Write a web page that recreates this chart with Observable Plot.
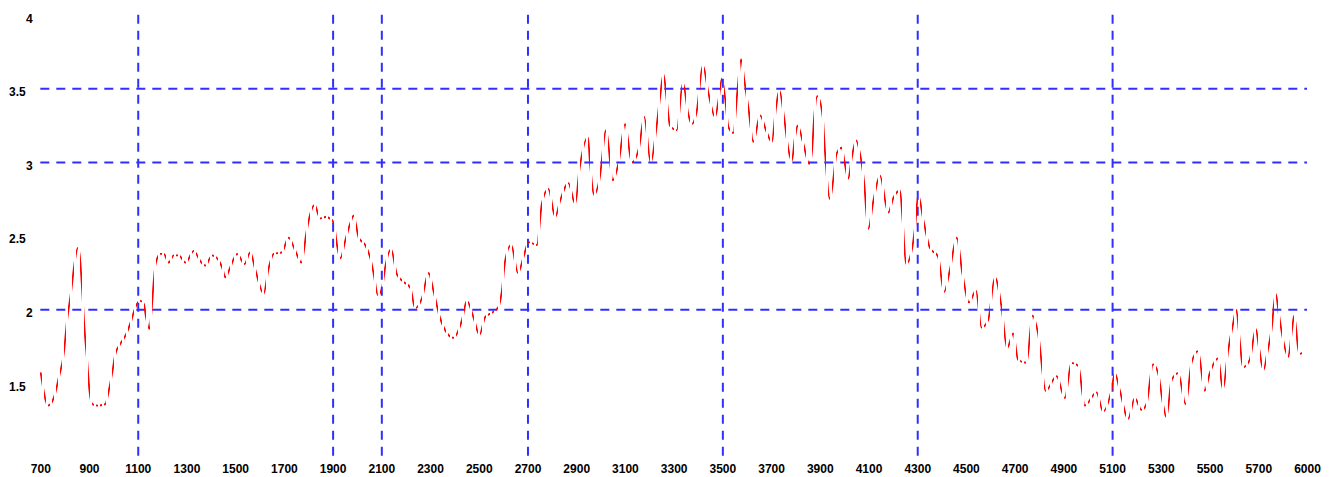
<!DOCTYPE html>
<html><head><meta charset="utf-8">
<script src="https://cdn.jsdelivr.net/npm/d3@7"></script>
<script src="https://cdn.jsdelivr.net/npm/@observablehq/plot@0.6"></script>
<style>html,body{margin:0;padding:0;background:#fff;overflow:hidden;}</style>
</head><body><div id="chart"></div>
<script>
const xValues = [700,730,753,774,794,808,825,838,852,859,870,879,890,900,911,931,965,979,995,1006,1027,1052,1072,1089,1109,1123,1132,1146,1154,1164,1171,1191,1205,1225,1246,1266,1294,1328,1355,1376,1403,1424,1444,1458,1478,1506,1536,1560,1581,1615,1635,1656,1690,1717,1745,1770,1790,1806,1824,1847,1868,1895,1906,1916,1930,1950,1971,1984,2005,2032,2053,2066,2084,2101,2114,2138,2162,2189,2217,2237,2265,2292,2312,2340,2394,2429,2449,2476,2501,2524,2552,2579,2593,2606,2631,2659,2682,2702,2737,2757,2784,2812,2832,2866,2894,2911,2946,2955,2972,2993,3021,3048,3071,3099,3126,3156,3177,3204,3226,3242,3256,3270,3283,3311,3336,3358,3372,3393,3418,3441,3468,3482,3496,3509,3523,3543,3560,3575,3588,3605,3625,3653,3677,3701,3718,3732,3751,3769,3783,3796,3807,3830,3855,3865,3875,3888,3910,3919,3940,3953,3967,3988,4001,4015,4029,4047,4063,4079,4097,4118,4145,4179,4200,4227,4238,4252,4275,4289,4302,4323,4350,4384,4408,4432,4460,4484,4511,4539,4562,4589,4617,4644,4667,4692,4712,4747,4771,4794,4826,4870,4904,4931,4959,4986,5034,5061,5096,5109,5130,5164,5191,5219,5239,5266,5287,5307,5321,5342,5369,5400,5424,5451,5478,5499,5533,5553,5574,5594,5608,5622,5635,5663,5688,5702,5729,5753,5778,5804,5824,5851,5882,5904,5918,5949,5973];
const yValues = [1.57,1.35,1.40,1.54,1.70,1.93,2.13,2.31,2.42,2.38,2.13,1.88,1.66,1.45,1.36,1.35,1.36,1.45,1.59,1.70,1.77,1.84,1.93,2.02,2.06,2.04,1.95,1.87,1.98,2.20,2.31,2.38,2.38,2.32,2.37,2.37,2.32,2.40,2.33,2.30,2.37,2.35,2.29,2.22,2.29,2.38,2.31,2.39,2.27,2.11,2.28,2.38,2.39,2.49,2.40,2.32,2.52,2.65,2.71,2.62,2.63,2.61,2.56,2.44,2.35,2.47,2.59,2.64,2.49,2.44,2.35,2.25,2.10,2.15,2.29,2.41,2.24,2.19,2.15,2.01,2.08,2.25,2.13,1.94,1.81,1.93,2.06,1.95,1.83,1.95,1.98,2.02,2.13,2.33,2.44,2.25,2.36,2.46,2.44,2.72,2.82,2.63,2.74,2.86,2.72,2.95,3.17,2.99,2.78,2.88,3.22,2.88,2.99,3.26,3.00,3.10,3.31,3.00,3.22,3.44,3.60,3.42,3.25,3.22,3.54,3.33,3.26,3.35,3.66,3.47,3.31,3.42,3.57,3.44,3.24,3.20,3.49,3.70,3.56,3.37,3.14,3.32,3.22,3.14,3.37,3.49,3.31,3.09,3.01,3.17,3.25,3.13,2.99,3.06,3.31,3.45,3.31,3.08,2.75,2.88,3.06,3.10,2.99,2.89,3.03,3.15,3.06,2.88,2.55,2.74,2.91,2.66,2.76,2.81,2.61,2.31,2.40,2.56,2.78,2.61,2.42,2.36,2.12,2.27,2.49,2.24,2.05,2.13,1.88,1.93,2.22,2.02,1.74,1.84,1.66,1.64,1.96,1.84,1.45,1.55,1.40,1.64,1.62,1.35,1.44,1.31,1.46,1.57,1.45,1.26,1.40,1.32,1.36,1.63,1.57,1.36,1.27,1.52,1.57,1.36,1.64,1.72,1.45,1.57,1.67,1.46,1.72,1.90,2.00,1.79,1.61,1.66,1.87,1.74,1.59,1.71,1.86,2.11,1.97,1.79,1.68,1.86,1.96,1.70,1.71];
const xTicks = [700,900,1100,1300,1500,1700,1900,2100,2300,2500,2700,2900,3100,3300,3500,3700,3900,4100,4300,4500,4700,4900,5100,5300,5500,5700,6000];
const yTicksWhole = [2,3,4];
const yTicksHalf = [1.5,2.5,3.5];
const xGridValues = [1100,1900,2100,2700,3500,4300,5100];
const yGridValues = [2,3,3.5];

const data = xValues.map((x, i) => ({x, y: yValues[i]}));

const chart = Plot.plot({
  width: 1338,
  height: 477,
  marginLeft: 40.3,
  marginRight: 31,
  marginTop: 14.7,
  marginBottom: 20.4,
  x: {type: "linear", domain: [700, 5700, 6000], range: [40.3, 1258.25, 1307], label: null},
  y: {type: "linear", domain: [1, 4], label: null},
  style: {fontFamily: "'Liberation Sans', Arial, sans-serif", fontSize: "12px", fontWeight: "bold", color: "#000", background: "#fff"},
  marks: [
    Plot.ruleY(yGridValues, {stroke: "#2f2fff", strokeWidth: 2, strokeDasharray: "9,7"}),
    Plot.ruleX(xGridValues, {stroke: "#2f2fff", strokeWidth: 2, strokeDasharray: "9,7"}),
    Plot.line(data, {x: "x", y: "y", stroke: "#ff0000", strokeWidth: 1.8, curve: "monotone-x"}),
    Plot.axisX(xTicks, {tickSize: 0, tickPadding: 7, label: null, tickFormat: d => String(d), fontWeight: "bold", fill: "#000"}),
    Plot.axisY(yTicksWhole, {tickSize: 0, tickPadding: 8, dy: 3.5, label: null, tickFormat: d => String(d), fontWeight: "bold", fill: "#000"}),
    Plot.axisY(yTicksHalf, {tickSize: 0, tickPadding: 15, dy: 3.5, label: null, tickFormat: d => String(d), fontWeight: "bold", fill: "#000"})
  ]
});

// dash the red series in vertical screen stripes (x-based dashing, like the original renderer)
const ns = "http://www.w3.org/2000/svg";
const defs = document.createElementNS(ns, "defs");
const clip = document.createElementNS(ns, "clipPath");
clip.setAttribute("id", "xdash");
clip.setAttribute("clipPathUnits", "userSpaceOnUse");
for (let px = 0; px < 1338; px += 4) {
  const r = document.createElementNS(ns, "rect");
  r.setAttribute("x", px); r.setAttribute("y", 0);
  r.setAttribute("width", 2); r.setAttribute("height", 477);
  clip.appendChild(r);
}
defs.appendChild(clip);
chart.insertBefore(defs, chart.firstChild);
const lineG = chart.querySelector('g[aria-label="line"]');
if (lineG) {
  const wrap = document.createElementNS(ns, "g");
  wrap.setAttribute("clip-path", "url(#xdash)");
  lineG.parentNode.insertBefore(wrap, lineG);
  wrap.appendChild(lineG);
}

document.getElementById("chart").appendChild(chart);
</script>
</body></html>
